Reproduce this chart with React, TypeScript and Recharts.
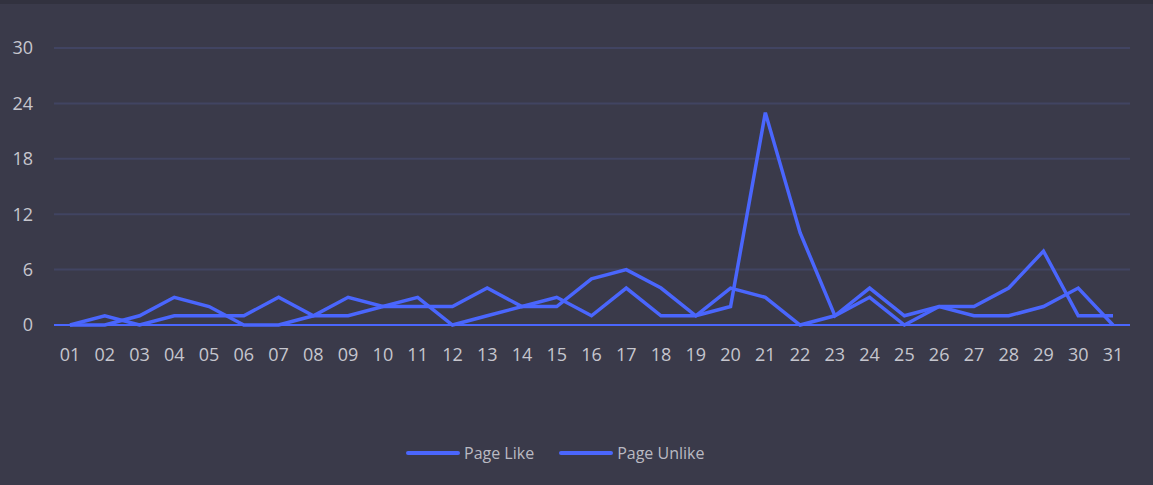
import React from "react";
import { LineChart, Line, XAxis, YAxis, CartesianGrid, Legend } from "recharts";

const days = ["01","02","03","04","05","06","07","08","09","10","11","12","13","14","15","16","17","18","19","20","21","22","23","24","25","26","27","28","29","30","31"];
const pageLike = [0,1,0,1,1,1,3,1,1,2,2,2,4,2,3,1,4,1,1,2,23,10,1,4,1,2,2,4,8,1,1];
const pageUnlike = [0,0,1,3,2,0,0,1,3,2,3,0,1,2,2,5,6,4,1,4,3,0,1,3,0,2,1,1,2,4,0];
const yTicks = [0, 6, 12, 18, 24, 30];

const data = days.map((d, i) => ({ day: d, like: pageLike[i], unlike: pageUnlike[i] }));

const LINE = "#4a66fd";
const FONT = "'Open Sans', sans-serif";

const LegendContent = (props: any) => {
  const { payload } = props;
  return (
    <div style={{ display: "flex", alignItems: "center", paddingLeft: 406, height: 40, fontFamily: FONT }}>
      {(payload || []).map((p: any, i: number) => (
        <div key={i} style={{ display: "flex", alignItems: "center", marginRight: 25 }}>
          <div style={{ width: 54, height: 4, borderRadius: 2, background: p.color, marginRight: 4 }} />
          <span style={{ color: "#b9b9c2", fontSize: 16 }}>{p.value}</span>
        </div>
      ))}
    </div>
  );
};

export default function App() {
  return (
    <div style={{ position: "absolute", left: 0, top: 0, width: 1153, height: 485, background: "#3a3a4a", overflow: "hidden" }}>
      <div style={{ position: "absolute", left: 0, top: 0, width: 1153, height: 4, background: "#32323f" }} />
      <LineChart
        width={1153}
        height={485}
        data={data}
        margin={{ top: 48, right: 23, left: 0, bottom: 12 }}
      >
        <CartesianGrid vertical={false} stroke="#414462" strokeWidth={2} />
        <XAxis
          dataKey="day"
          height={108}
          padding={{ left: 16, right: 17 }}
          tickLine={false}
          axisLine={{ stroke: LINE, strokeWidth: 2 }}
          tickMargin={17}
          interval={0}
          tick={{ fill: "#c6c6ce", fontSize: 18, fontFamily: FONT }}
        />
        <YAxis
          width={54}
          domain={[0, 30]}
          ticks={yTicks}
          tickLine={false}
          axisLine={false}
          tickMargin={15}
          tick={{ fill: "#c6c6ce", fontSize: 18, fontFamily: FONT }}
        />
        <Legend
          verticalAlign="bottom"
          height={40}
          content={<LegendContent />}
          wrapperStyle={{ left: 0, width: 1153 }}
        />
        <Line type="linear" dataKey="like" name="Page Like" stroke={LINE} strokeWidth={3.5} dot={false} activeDot={false} isAnimationActive={false} />
        <Line type="linear" dataKey="unlike" name="Page Unlike" stroke={LINE} strokeWidth={3.5} dot={false} activeDot={false} isAnimationActive={false} />
      </LineChart>
    </div>
  );
}
